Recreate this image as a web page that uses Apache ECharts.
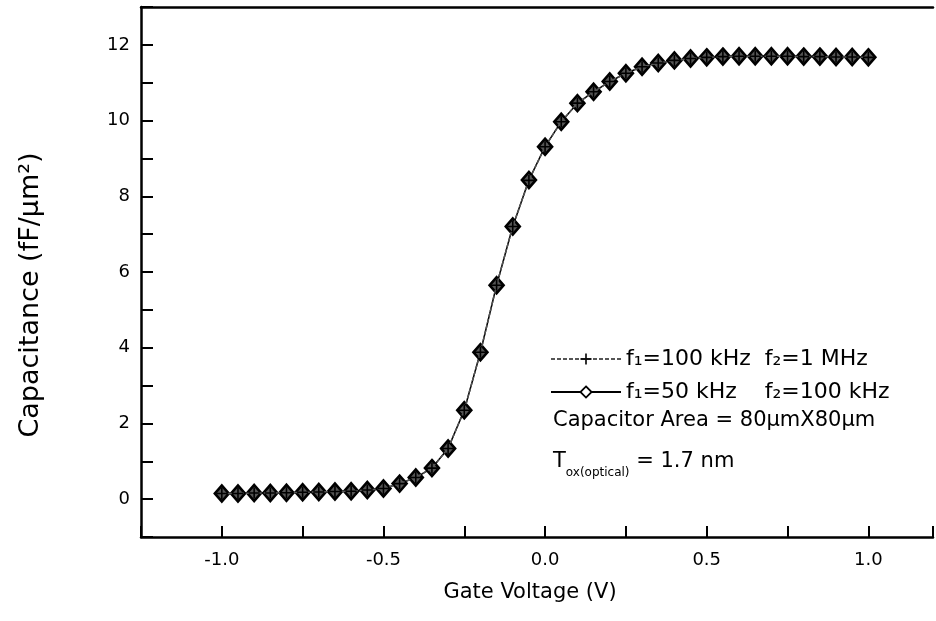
<!DOCTYPE html>
<html>
<head>
<meta charset="utf-8">
<script src="https://cdn.jsdelivr.net/npm/echarts@6/dist/echarts.min.js"></script>
<style>
  html, body { margin: 0; padding: 0; background: #ffffff; }
  #chart { width: 936px; height: 621px; }
</style>
</head>
<body>
<div id="chart"></div>
<script>
// Gate voltage sweep (V)
var gateVoltage = [
  -1.00, -0.95, -0.90, -0.85, -0.80, -0.75, -0.70, -0.65, -0.60, -0.55,
  -0.50, -0.45, -0.40, -0.35, -0.30, -0.25, -0.20, -0.15, -0.10, -0.05,
   0.00,  0.05,  0.10,  0.15,  0.20,  0.25,  0.30,  0.35,  0.40,  0.45,
   0.50,  0.55,  0.60,  0.65,  0.70,  0.75,  0.80,  0.85,  0.90,  0.95,
   1.00
];

// Capacitance (fF/µm²), f1 = 100 kHz / f2 = 1 MHz
var capHighFreq = [
  0.15, 0.15, 0.16, 0.16, 0.17, 0.18, 0.19, 0.20, 0.21, 0.24,
  0.28, 0.41, 0.57, 0.82, 1.34, 2.35, 3.88, 5.65, 7.20, 8.42,
  9.31, 9.97, 10.46, 10.76, 11.03, 11.25, 11.42, 11.52, 11.59, 11.64,
  11.67, 11.69, 11.70, 11.70, 11.70, 11.70, 11.69, 11.69, 11.68, 11.68,
  11.67
];

// Capacitance (fF/µm²), f1 = 50 kHz / f2 = 100 kHz
var capLowFreq = [
  0.15, 0.15, 0.16, 0.16, 0.17, 0.18, 0.19, 0.20, 0.21, 0.24,
  0.28, 0.41, 0.57, 0.82, 1.34, 2.35, 3.88, 5.65, 7.20, 8.43,
  9.31, 9.97, 10.46, 10.76, 11.03, 11.25, 11.42, 11.52, 11.59, 11.64,
  11.67, 11.69, 11.70, 11.70, 11.70, 11.70, 11.69, 11.69, 11.68, 11.68,
  11.67
];

var xTickLabels = ['-1.0', '-0.5', '0.0', '0.5', '1.0'];
var yTickLabels = ['0', '2', '4', '6', '8', '10', '12'];

var seriesNameHigh = 'f\u2081=100 kHz  f\u2082=1 MHz';
var seriesNameLow = 'f\u2081=50 kHz    f\u2082=100 kHz';

function pairs(xs, ys) {
  return xs.map(function (x, i) { return [x, ys[i]]; });
}

var FONT = 'DejaVu Sans';
var INK = '#000000';

var chart = echarts.init(document.getElementById('chart'), null, { renderer: 'canvas' });

chart.setOption({
  animation: false,
  backgroundColor: '#ffffff',
  grid: { left: 141, right: 1, top: 7, bottom: 84, containLabel: false },
  xAxis: [{
    type: 'value',
    min: -1.25,
    max: 1.2,
    interval: 0.25,
    name: 'Gate Voltage (V)',
    nameLocation: 'middle',
    nameGap: 45,
    nameTextStyle: { fontFamily: FONT, fontSize: 21, color: INK, padding: [0, 14, 0, 0] },
    axisLine: { show: true, onZero: false, lineStyle: { color: INK, width: 2.5 } },
    axisTick: { show: true, inside: true, length: 11, lineStyle: { color: INK, width: 2 } },
    splitLine: { show: false },
    axisLabel: {
      margin: 14,
      fontFamily: FONT, fontSize: 18, color: INK,
      formatter: function (v) {
        var s = v.toFixed(1);
        return xTickLabels.indexOf(s) >= 0 && Math.abs(v * 2 - Math.round(v * 2)) < 1e-6 ? s : '';
      }
    }
  }, {
    type: 'value',
    position: 'top',
    min: -1.25,
    max: 1.2,
    axisLine: { show: true, onZero: false, lineStyle: { color: INK, width: 2.5 } },
    axisTick: { show: false },
    axisLabel: { show: false },
    splitLine: { show: false }
  }],
  yAxis: {
    type: 'value',
    min: -1,
    max: 13,
    interval: 1,
    name: 'Capacitance (fF/\u00b5m\u00b2)',
    nameLocation: 'middle',
    nameRotate: 90,
    nameGap: 97,
    nameTextStyle: { fontFamily: FONT, fontSize: 27, color: INK, padding: [0, 46, 0, 0] },
    axisLine: { show: true, onZero: false, lineStyle: { color: INK, width: 2.5 } },
    axisTick: { show: true, inside: true, length: 12, lineStyle: { color: INK, width: 2 } },
    splitLine: { show: false },
    axisLabel: {
      margin: 11,
      fontFamily: FONT, fontSize: 18, color: INK,
      formatter: function (v) {
        var s = String(Math.round(v));
        return yTickLabels.indexOf(s) >= 0 && Math.abs(v - Math.round(v)) < 1e-6 ? s : '';
      }
    }
  },
  legend: {
    data: [
      { name: seriesNameHigh },
      { name: seriesNameLow, itemStyle: { color: '#ffffff', borderColor: INK, borderWidth: 1.8 } }
    ],
    orient: 'vertical',
    left: 545,
    top: 343,
    itemWidth: 70,
    itemHeight: 14,
    itemGap: 11,
    textStyle: { fontFamily: FONT, fontSize: 22, color: INK },
    selectedMode: false
  },
  series: [{
    name: seriesNameLow,
    type: 'line',
    data: pairs(gateVoltage, capLowFreq),
    symbol: 'diamond',
    symbolSize: [14, 16],
    showSymbol: true,
    lineStyle: { color: INK, width: 1.5, type: 'solid' },
    itemStyle: { color: '#555555', borderColor: INK, borderWidth: 2.6 },
    z: 2
  }, {
    name: seriesNameHigh,
    type: 'line',
    data: pairs(gateVoltage, capHighFreq),
    symbol: 'path://M0,6h14v2h-14z M6,0h2v14h-2z',
    symbolSize: 11,
    showSymbol: true,
    lineStyle: { color: '#555555', width: 1.5, type: [4, 2] },
    itemStyle: { color: INK, borderWidth: 0 },
    z: 3
  }],
  graphic: [{
    type: 'text',
    left: 553,
    top: 410,
    style: {
      text: 'Capacitor Area = 80\u00b5mX80\u00b5m',
      font: '21px "DejaVu Sans"',
      fill: INK
    }
  }, {
    type: 'text',
    left: 553,
    top: 451,
    style: {
      text: '{t|T}{s|ox(optical)}{t| = 1.7 nm}',
      fill: INK,
      rich: {
        t: { fontFamily: FONT, fontSize: 21, lineHeight: 34, verticalAlign: 'middle', fill: INK },
        s: { fontFamily: FONT, fontSize: 12, lineHeight: 12, verticalAlign: 'bottom', fill: INK }
      }
    }
  }]
});
</script>
</body>
</html>
